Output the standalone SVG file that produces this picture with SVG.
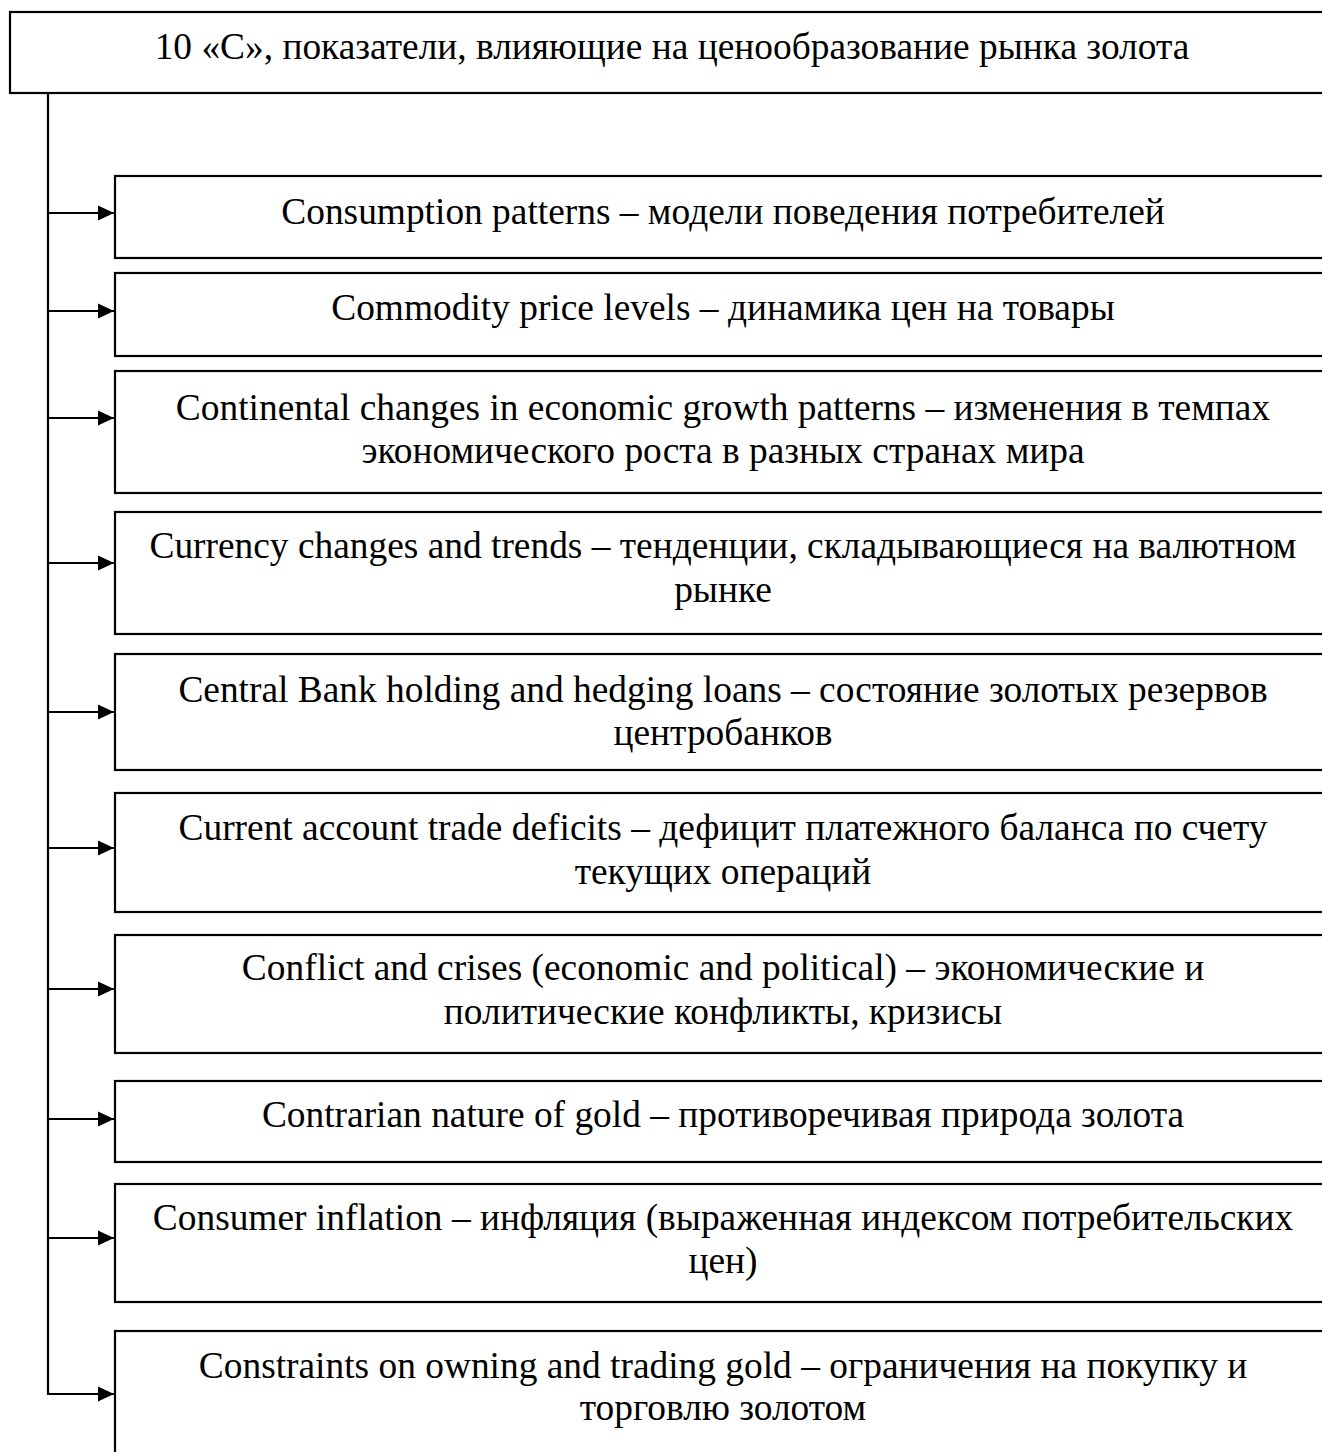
<svg xmlns="http://www.w3.org/2000/svg" width="1322" height="1452" viewBox="0 0 1322 1452">
<style>
.box{fill:#fff;stroke:#000;stroke-width:2.2}
.t{font-family:"Liberation Serif","Times New Roman",serif;font-size:37.4px;fill:#000;text-anchor:middle}
.c{stroke:#000;stroke-width:2.2;fill:none}
</style>
<defs>
<marker id="ah" markerWidth="16" markerHeight="16" refX="16" refY="8" orient="auto" markerUnits="userSpaceOnUse">
<path d="M0,0.5 L16,8 L0,15.5 Z" fill="#000"/>
</marker>
</defs>
<rect width="1322" height="1452" fill="#fff"/>
<g id="connectors">
<line class="c" x1="48" y1="93" x2="48" y2="1395"/>
<line class="c" x1="47" y1="213" x2="114" y2="213" marker-end="url(#ah)"/>
<line class="c" x1="47" y1="311" x2="114" y2="311" marker-end="url(#ah)"/>
<line class="c" x1="47" y1="418" x2="114" y2="418" marker-end="url(#ah)"/>
<line class="c" x1="47" y1="563" x2="114" y2="563" marker-end="url(#ah)"/>
<line class="c" x1="47" y1="712" x2="114" y2="712" marker-end="url(#ah)"/>
<line class="c" x1="47" y1="848" x2="114" y2="848" marker-end="url(#ah)"/>
<line class="c" x1="47" y1="989" x2="114" y2="989" marker-end="url(#ah)"/>
<line class="c" x1="47" y1="1119" x2="114" y2="1119" marker-end="url(#ah)"/>
<line class="c" x1="47" y1="1238" x2="114" y2="1238" marker-end="url(#ah)"/>
<line class="c" x1="47" y1="1394" x2="114" y2="1394" marker-end="url(#ah)"/>
</g>
<g id="title">
<rect class="box" x="10" y="12" width="1330" height="81"/>
<text class="t" x="672" y="59">10 «С», показатели, влияющие на ценообразование рынка золота</text>
</g>
<g id="n1">
<rect class="box" x="115" y="176" width="1220" height="82"/>
<text class="t" x="723" y="224">Consumption patterns – модели поведения потребителей</text>
</g>
<g id="n2">
<rect class="box" x="115" y="273" width="1220" height="83"/>
<text class="t" x="723" y="320">Commodity price levels – динамика цен на товары</text>
</g>
<g id="n3">
<rect class="box" x="115" y="371" width="1220" height="122"/>
<text class="t" x="723" y="420">Continental changes in economic growth patterns – изменения в темпах</text>
<text class="t" x="723" y="463">экономического роста в разных странах мира</text>
</g>
<g id="n4">
<rect class="box" x="115" y="512" width="1220" height="122"/>
<text class="t" x="723" y="558">Currency changes and trends – тенденции, складывающиеся на валютном</text>
<text class="t" x="723" y="602">рынке</text>
</g>
<g id="n5">
<rect class="box" x="115" y="654" width="1220" height="116"/>
<text class="t" x="723" y="702">Central Bank holding and hedging loans – состояние золотых резервов</text>
<text class="t" x="723" y="745">центробанков</text>
</g>
<g id="n6">
<rect class="box" x="115" y="793" width="1220" height="119"/>
<text class="t" x="723" y="840">Current account trade deficits – дефицит платежного баланса по счету</text>
<text class="t" x="723" y="884">текущих операций</text>
</g>
<g id="n7">
<rect class="box" x="115" y="935" width="1220" height="118"/>
<text class="t" x="723" y="980">Conflict and crises (economic and political) – экономические и</text>
<text class="t" x="723" y="1024">политические конфликты, кризисы</text>
</g>
<g id="n8">
<rect class="box" x="115" y="1081" width="1220" height="81"/>
<text class="t" x="723" y="1127">Contrarian nature of gold – противоречивая природа золота</text>
</g>
<g id="n9">
<rect class="box" x="115" y="1184" width="1220" height="118"/>
<text class="t" x="723" y="1230">Consumer inflation – инфляция (выраженная индексом потребительских</text>
<text class="t" x="723" y="1273">цен)</text>
</g>
<g id="n10">
<rect class="box" x="115" y="1331" width="1220" height="140"/>
<text class="t" x="723" y="1378">Constraints on owning and trading gold – ограничения на покупку и</text>
<text class="t" x="723" y="1420">торговлю золотом</text>
</g>
</svg>
